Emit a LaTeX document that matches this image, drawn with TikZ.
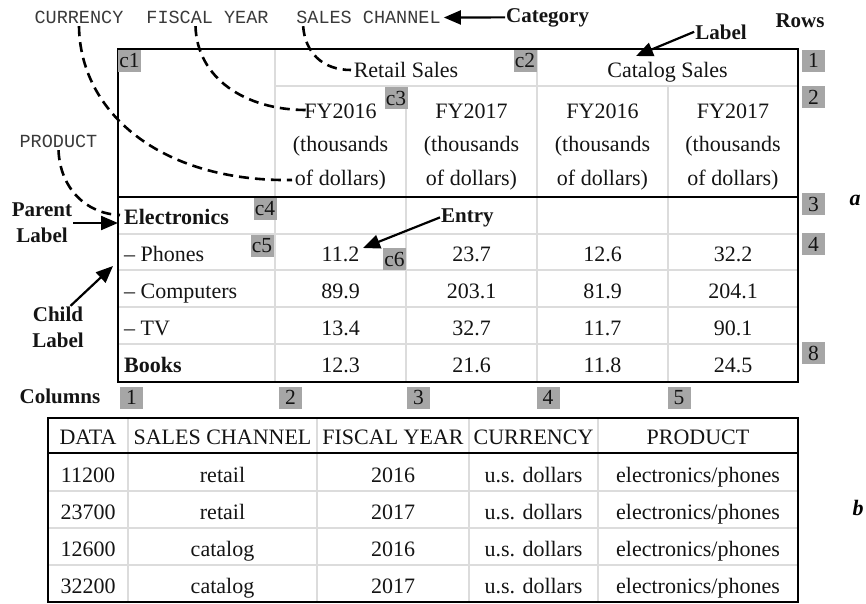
\documentclass[tikz,border=0pt]{standalone}
\usepackage{fontspec}
\setmainfont{Liberation Serif}
\setmonofont{Liberation Mono}
\usetikzlibrary{arrows.meta,calc}
\definecolor{gridgray}{HTML}{DCDCDC}
\definecolor{taggray}{HTML}{A6A6A6}
\definecolor{inkc}{HTML}{141414}
\definecolor{monoc}{HTML}{3A3A3A}
\begin{document}
\begin{tikzpicture}[x=1pt,y=-1pt,
  tag/.style={fill=taggray, text=inkc, inner sep=0pt, minimum width=23pt, minimum height=22pt, font=\fontsize{21.5}{21.5}\selectfont},
  cell/.style={font=\fontsize{22}{26}\selectfont, inner sep=0pt, anchor=base, text=inkc},
  lcell/.style={cell, anchor=base west},
  hdr/.style={font=\fontsize{22}{33.5}\selectfont, align=center, inner sep=0pt, text=inkc},
  mono/.style={font=\fontsize{18.5}{20}\selectfont\ttfamily, inner sep=3pt, text height=11pt, text depth=0pt, anchor=base, text=monoc},
  note/.style={font=\fontsize{21}{26}\selectfont\bfseries, align=center, inner sep=1pt, text=inkc},
  bnote/.style={note, anchor=base},
  arr/.style={line width=2.2pt, -{Triangle[length=17pt,width=14pt]}},
  dcurve/.style={line width=2.6pt, dash pattern=on 10pt off 6pt},
  gridl/.style={gridgray, line width=2pt},
  frame/.style={black, line width=2pt},
]
\useasboundingbox (0,0) rectangle (866,603);

% ---------- table a : grid ----------
\draw[gridl] (275,49) -- (275,382);
\draw[gridl] (406,86) -- (406,382);
\draw[gridl] (537,49) -- (537,382);
\draw[gridl] (668,86) -- (668,382);
\draw[gridl] (275,86) -- (798,86);
\foreach \yy in {234,270,307,344} \draw[gridl] (118,\yy) -- (798,\yy);
\draw[frame] (118,197) -- (798,197);
\draw[frame] (118,49) rectangle (798,382);

% ---------- table a : headers ----------
\node[cell] (rs) at (406,77) {Retail Sales};
\node[cell] (cs) at (667.5,77) {Catalog Sales};
\node[hdr] (h2) at (340.5,147) {FY2016\\(thousands\\of dollars)};
\node[hdr] (h3) at (471.5,147) {FY2017\\(thousands\\of dollars)};
\node[hdr] (h4) at (602.5,147) {FY2016\\(thousands\\of dollars)};
\node[hdr] (h5) at (733,147) {FY2017\\(thousands\\of dollars)};

% ---------- table a : body ----------
\node[lcell, font=\fontsize{22}{26}\selectfont\bfseries] (elec) at (124,224) {Electronics};
\node[lcell] (phon) at (124,261) {– Phones};
\node[lcell] (comp) at (124,298) {– Computers};
\node[lcell] (tv) at (124,335) {– TV};
\node[lcell, font=\fontsize{22}{26}\selectfont\bfseries] (book) at (124,372) {Books};

\node[cell] (p2) at (340.5,261) {11.2};
\node[cell] (p3) at (471.5,261) {23.7};
\node[cell] (p4) at (602.5,261) {12.6};
\node[cell] (p5) at (733,261) {32.2};
\node[cell] (m2) at (340.5,298) {89.9};
\node[cell] (m3) at (471.5,298) {203.1};
\node[cell] (m4) at (602.5,298) {81.9};
\node[cell] (m5) at (733,298) {204.1};
\node[cell] (t2) at (340.5,335) {13.4};
\node[cell] (t3) at (471.5,335) {32.7};
\node[cell] (t4) at (602.5,335) {11.7};
\node[cell] (t5) at (733,335) {90.1};
\node[cell] (b2) at (340.5,372) {12.3};
\node[cell] (b3) at (471.5,372) {21.6};
\node[cell] (b4) at (602.5,372) {11.8};
\node[cell] (b5) at (733,372) {24.5};

% ---------- tags ----------
\node[tag] (c1) at (129.5,60.5) {c1};
\node[tag] (c2) at (525,60.5) {c2};
\node[tag] (c3) at (396,98) {c3};
\node[tag] (c4) at (265,208.5) {c4};
\node[tag] (c5) at (262,245.5) {c5};
\node[tag] (c6) at (394.5,259) {c6};
\node[tag] (r1) at (813.5,60.5) {1};
\node[tag] (r2) at (813.5,97) {2};
\node[tag] (r3) at (813.5,204) {3};
\node[tag] (r4) at (813.5,244) {4};
\node[tag] (r8) at (813.5,353) {8};
\node[tag] (k1) at (131.5,397.5) {1};
\node[tag] (k2) at (290.5,397.5) {2};
\node[tag] (k3) at (418.5,397.5) {3};
\node[tag] (k4) at (548,397.5) {4};
\node[tag] (k5) at (679,397.5) {5};

% ---------- category names ----------
\node[mono] (curr) at (79,23) {CURRENCY};
\node[mono] (fy) at (207.5,23) {FISCAL YEAR};
\node[mono] (sc) at (368.5,23) {SALES CHANNEL};
\node[mono] (prod) at (58.5,147) {PRODUCT};

\coordinate (endCur) at (292,180);
\coordinate (endFY) at (306,110);
\coordinate (endRS) at (351,70);
\coordinate (endProd) at (120,215);
\draw[dcurve] (curr.south) .. controls (80,112) and (160,182) .. (endCur);
\draw[dcurve] ($(fy.south)+(-12,0)$) .. controls (197,78) and (245,110) .. (endFY);
\draw[dcurve] ($(sc.south west)+(10,0)$) .. controls (305,52) and (322,70) .. (endRS);
\draw[dcurve] (prod.south) .. controls (60,188) and (86,214) .. (endProd);

% ---------- annotations ----------
\node[bnote, anchor=base west] (cat) at (505,22) {Category};
\node[bnote] (rows) at (800,27) {Rows};
\node[bnote] (lab) at (721,39) {Label};
\node[note] (par) at (42,223) {Parent\\Label};
\node[note] (chi) at (58,327.5) {Child\\Label};
\node[bnote] (cols) at (60,403) {Columns};
\node[bnote, anchor=base west] (ent) at (440,222) {Entry};
\node[anchor=base, inner sep=0pt, font=\fontsize{22}{26}\selectfont\bfseries\itshape] (la) at (855,205) {a};
\node[anchor=base, inner sep=0pt, font=\fontsize{22}{26}\selectfont\bfseries\itshape] (lb) at (858,515) {b};

\coordinate (labtip) at (636,56);
\coordinate (partip) at (118,223);
\coordinate (entip) at (363,248);
\coordinate (chtip) at (113,266);
\draw[arr] (cat.west) -- (sc.east);
\draw[arr] (lab.west) -- (labtip);
\draw[arr] (par.east) -- (partip);
\draw[arr] (chi.60) -- (chtip);
\draw[arr] (ent.west) -- (entip);

% ---------- table b ----------
\foreach \xx in {128,317,469,598} \draw[gridl] (\xx,418) -- (\xx,602);
\foreach \yy in {491,528,565} \draw[gridl] (48,\yy) -- (798,\yy);
\draw[frame] (48,453) -- (798,453);
\draw[frame] (48,418) rectangle (798,602);

\node[cell] (hd1) at (88,444) {DATA};
\node[cell] (hd2) at (222.5,444) {SALES CHANNEL};
\node[cell] (hd3) at (393,444) {FISCAL YEAR};
\node[cell] (hd4) at (533.5,444) {CURRENCY};
\node[cell] (hd5) at (698,444) {PRODUCT};

\node[cell] (d11) at (88,482) {11200};
\node[cell] (d12) at (222.5,482) {retail};
\node[cell] (d13) at (393,482) {2016};
\node[cell] (d14) at (533.5,482) {u.s. dollars};
\node[cell] (d15) at (698,482) {electronics/phones};
\node[cell] (d21) at (88,519) {23700};
\node[cell] (d22) at (222.5,519) {retail};
\node[cell] (d23) at (393,519) {2017};
\node[cell] (d24) at (533.5,519) {u.s. dollars};
\node[cell] (d25) at (698,519) {electronics/phones};
\node[cell] (d31) at (88,556) {12600};
\node[cell] (d32) at (222.5,556) {catalog};
\node[cell] (d33) at (393,556) {2016};
\node[cell] (d34) at (533.5,556) {u.s. dollars};
\node[cell] (d35) at (698,556) {electronics/phones};
\node[cell] (d41) at (88,593) {32200};
\node[cell] (d42) at (222.5,593) {catalog};
\node[cell] (d43) at (393,593) {2017};
\node[cell] (d44) at (533.5,593) {u.s. dollars};
\node[cell] (d45) at (698,593) {electronics/phones};
\end{tikzpicture}
\end{document}
